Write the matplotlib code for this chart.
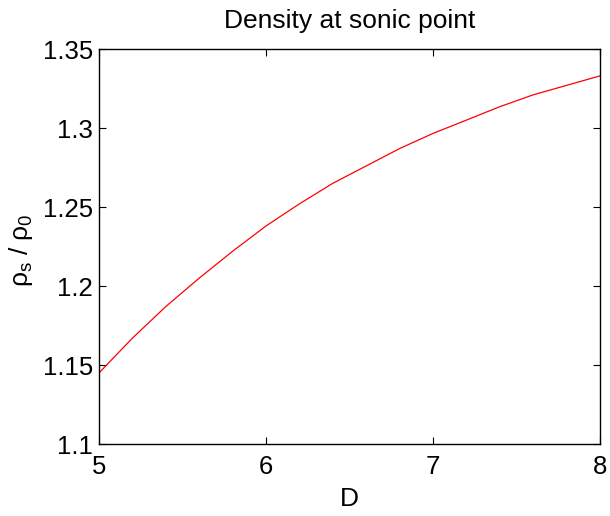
import matplotlib
matplotlib.use("Agg")
import matplotlib.pyplot as plt

# sonic-point density ratio against D
D = [5.0, 5.2, 5.4, 5.6, 5.8, 6.0, 6.2, 6.4, 6.6, 6.8,
     7.0, 7.2, 7.4, 7.6, 7.8, 8.0]
rho_ratio = [1.145, 1.167, 1.187, 1.205, 1.222, 1.238, 1.252, 1.265, 1.276, 1.287,
             1.2966, 1.305, 1.3135, 1.321, 1.327, 1.333]

x_ticks = [5, 6, 7, 8]
y_ticks = [1.1, 1.15, 1.2, 1.25, 1.3, 1.35]
y_tick_labels = ["1.1", "1.15", "1.2", "1.25", "1.3", "1.35"]

plt.rcParams["font.family"] = ["Liberation Sans", "DejaVu Sans"]
plt.rcParams["mathtext.fontset"] = "custom"
plt.rcParams["mathtext.rm"] = "Liberation Sans"
plt.rcParams["mathtext.it"] = "Liberation Sans"
plt.rcParams["mathtext.bf"] = "Liberation Sans:bold"

fig = plt.figure(figsize=(6.1, 5.16), dpi=100)
ax = fig.add_axes([0.1623, 0.1395, 0.8213, 0.7655])

ax.plot(D, rho_ratio, color="#ff0000", linewidth=0.9)

ax.set_xlim(5, 8)
ax.set_ylim(1.1, 1.35)
ax.set_xticks(x_ticks)
ax.set_yticks(y_ticks)
ax.set_yticklabels(y_tick_labels)
ax.tick_params(direction="in", top=True, right=True, length=5, width=0.8,
               labelsize=18.5)
ax.tick_params(axis="x", pad=8)
ax.tick_params(axis="y", pad=4.5)
for s in ax.spines.values():
    s.set_linewidth(1.0)

ax.set_title("Density at sonic point", fontsize=19, pad=15)
ax.set_xlabel("D", fontsize=19, labelpad=6)
ax.set_ylabel(r"$\rho_s$ / $\rho_0$", fontsize=19)
ax.yaxis.set_label_coords(-0.127, 0.49)

fig.savefig("out.png", dpi=100)
